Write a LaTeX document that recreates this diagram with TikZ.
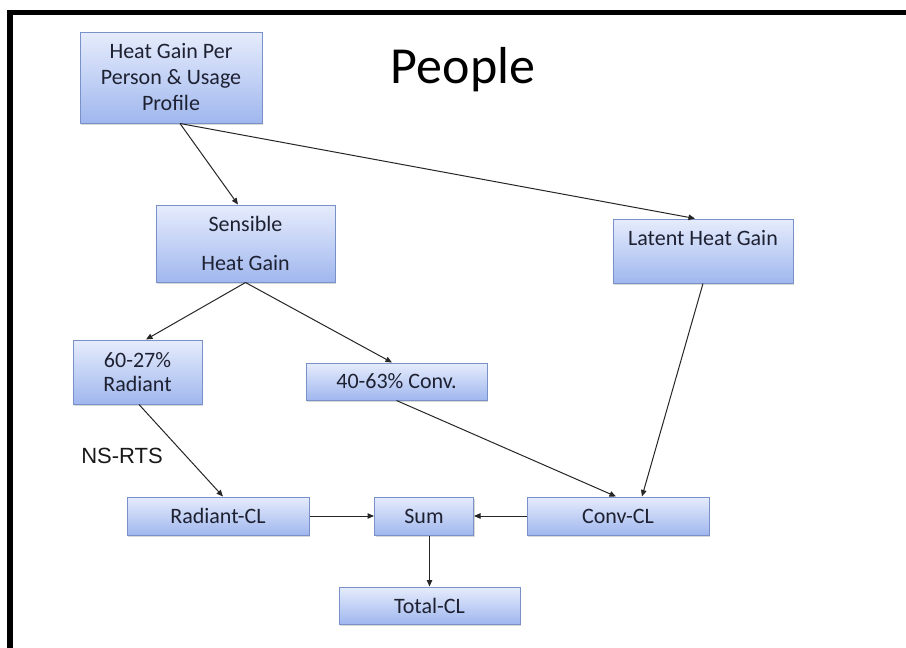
\documentclass[tikz,border=0pt]{standalone}
\usepackage{fontspec}
\setmainfont{Carlito}
\newfontfamily\arialfont{Liberation Sans}
\usetikzlibrary{arrows.meta,shadows}
\definecolor{boxtop}{RGB}{230,236,252}
\definecolor{boxbot}{RGB}{160,183,238}
\definecolor{boxline}{RGB}{120,145,200}
\definecolor{boxtext}{RGB}{30,33,50}
\begin{document}
\begin{tikzpicture}[x=1pt,y=-1pt,
  box/.style={draw=boxline, line width=1pt, top color=boxtop, bottom color=boxbot,
    text=boxtext, font=\fontsize{22}{26}\selectfont, align=center, inner sep=0pt,
    drop shadow={shadow xshift=1pt, shadow yshift=-2pt, opacity=0.3}},
  arr/.style={-{Triangle[length=6.5pt,width=5.5pt]}, line width=1pt, black!85},
]
\useasboundingbox (0,0) rectangle (906,648);
\fill[white] (0,0) rectangle (906,648);
\draw[line width=5.5pt, line join=miter] (10,648) -- (10,12.3) -- (906,12.3);

\node[font=\fontsize{52}{60}\selectfont, text=black, anchor=base] (title) at (463,83) {People};

\node[box, minimum width=182pt, minimum height=91pt] (top) at (171,77.5) {Heat Gain Per\\Person \& Usage\\Profile};
\node[box, minimum width=179pt, minimum height=77pt] (sens) at (245.5,243.5) {Sensible\\[13pt]Heat Gain};
\node[box, minimum width=180pt, minimum height=64pt] (lat) at (703,251) {Latent Heat Gain\\\phantom{Latent}};
\node[box, minimum width=129pt, minimum height=64pt] (rad) at (137.5,372) {60-27\%\\[-2pt]Radiant};
\node[box, minimum width=181pt, minimum height=37pt] (conv) at (396.5,381.5) {40-63\% Conv.};
\node[box, minimum width=182pt, minimum height=38pt] (radcl) at (218,516) {Radiant-CL};
\node[box, minimum width=99pt, minimum height=38pt] (sum) at (424,516) {Sum};
\node[box, minimum width=182pt, minimum height=38pt] (convcl) at (618,516) {Conv-CL};
\node[box, minimum width=181pt, minimum height=37pt] (total) at (429.5,605.5) {Total-CL};

\node[font=\arialfont\fontsize{22}{26}\selectfont, text=black!90, anchor=base] (nsrts) at (122,463) {NS-RTS};

\draw[arr] ([xshift=9pt]top.south) -- ([xshift=-7.5pt]sens.north);
\draw[arr] ([xshift=9pt]top.south) -- ([xshift=-8pt]lat.north);
\draw[arr] (sens.south) -- ([xshift=8.5pt]rad.north);
\draw[arr] (sens.south) -- ([xshift=-4.5pt]conv.north);
\draw[arr] ([xshift=1.5pt]rad.south) -- ([xshift=5pt]radcl.north);
\draw[arr] (conv.south) -- ([xshift=-2pt]convcl.north);
\draw[arr] (lat.south) -- ([xshift=24pt]convcl.north);
\draw[arr] (radcl.east) -- (sum.west);
\draw[arr] (convcl.west) -- (sum.east);
\draw[arr] (sum.south -| total.north) -- (total.north);
\end{tikzpicture}
\end{document}
